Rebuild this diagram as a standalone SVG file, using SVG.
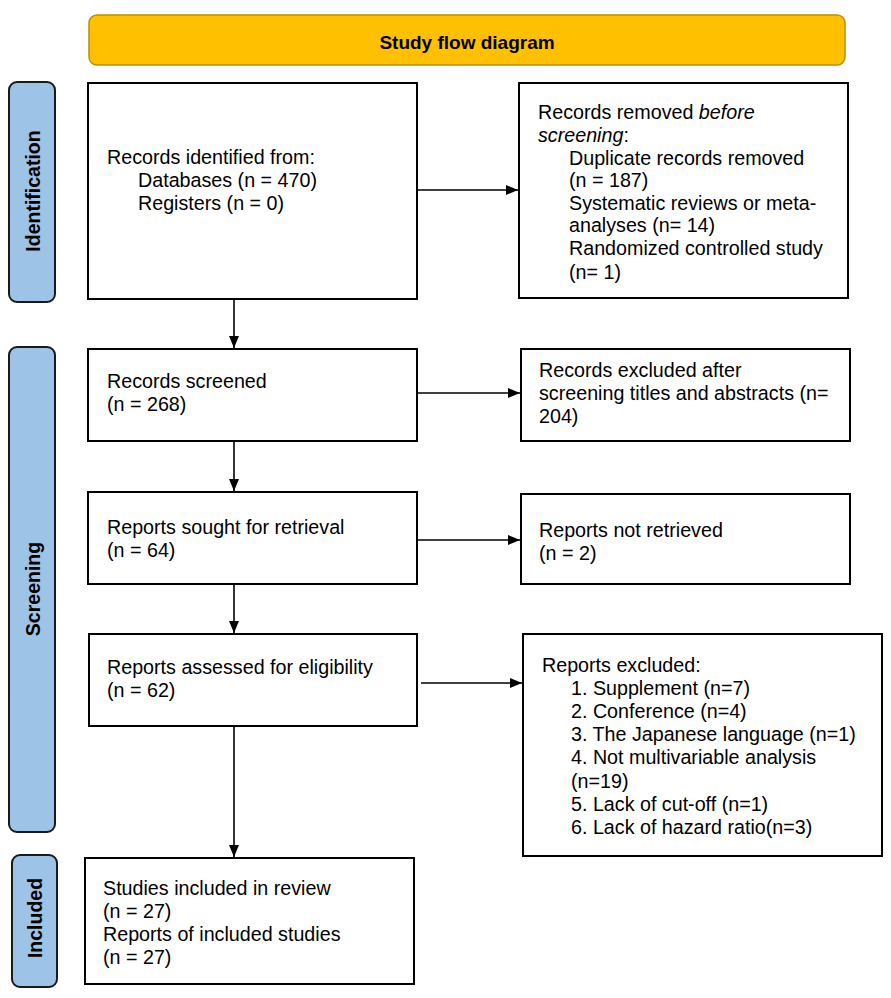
<svg xmlns="http://www.w3.org/2000/svg" width="891" height="998" viewBox="0 0 891 998">
<style>
.box{fill:#fff;stroke:#000;stroke-width:2}
.side{fill:#9DC3E6;stroke:#1a1a1a;stroke-width:2}
.t{font-family:"Liberation Sans",Arial,sans-serif;font-size:19.7px;fill:#000}
.st{font-family:"Liberation Sans",Arial,sans-serif;font-size:19.5px;font-weight:bold;fill:#000}
.conn{stroke:#000;stroke-width:1.6;fill:none;marker-end:url(#ah)}
</style>
<defs>
<marker id="ah" markerUnits="userSpaceOnUse" markerWidth="13" markerHeight="11" refX="12" refY="5" orient="auto">
<path d="M0,0 L12,5 L0,10 z" fill="#000"/>
</marker>
</defs>
<rect width="891" height="998" fill="#fff"/>

<g id="title">
<rect x="89" y="15" width="756" height="50" rx="8" fill="#FFC000" stroke="#B8900A" stroke-width="1.5"/>
<text x="467" y="49" text-anchor="middle" class="st" style="font-size:19px">Study flow diagram</text>
</g>

<g id="lbl-identification">
<rect class="side" x="9" y="82" width="46" height="220" rx="8"/>
<text class="st" transform="translate(40,191) rotate(-90)" text-anchor="middle">Identification</text>
</g>
<g id="lbl-screening">
<rect class="side" x="9" y="347" width="46" height="485" rx="8"/>
<text class="st" transform="translate(40,589) rotate(-90)" text-anchor="middle">Screening</text>
</g>
<g id="lbl-included">
<rect class="side" x="12" y="855" width="45" height="132" rx="8"/>
<text class="st" transform="translate(42,918) rotate(-90)" text-anchor="middle">Included</text>
</g>

<g id="n-identified">
<rect class="box" x="88" y="83" width="329" height="216"/>
<text class="t" x="107" y="164">Records identified from:</text>
<text class="t" x="138" y="187">Databases (n = 470)</text>
<text class="t" x="138" y="210">Registers (n = 0)</text>
</g>

<g id="n-removed">
<rect class="box" x="519" y="83" width="329" height="215"/>
<text class="t" x="538" y="119">Records removed <tspan font-style="italic">before</tspan></text>
<text class="t" x="538" y="142"><tspan font-style="italic">screening</tspan>:</text>
<text class="t" x="569" y="165">Duplicate records removed</text>
<text class="t" x="569" y="187">(n = 187)</text>
<text class="t" x="569" y="210">Systematic reviews or meta-</text>
<text class="t" x="569" y="232">analyses (n= 14)</text>
<text class="t" x="569" y="255">Randomized controlled study</text>
<text class="t" x="569" y="279">(n= 1)</text>
</g>

<g id="n-screened">
<rect class="box" x="88" y="349" width="329" height="92"/>
<text class="t" x="107" y="388">Records screened</text>
<text class="t" x="107" y="411">(n = 268)</text>
</g>

<g id="n-excluded">
<rect class="box" x="521" y="349" width="329" height="92"/>
<text class="t" x="539" y="377">Records excluded after</text>
<text class="t" x="539" y="400">screening titles and abstracts (n=</text>
<text class="t" x="539" y="423">204)</text>
</g>

<g id="n-sought">
<rect class="box" x="88" y="492" width="329" height="92"/>
<text class="t" x="107" y="534">Reports sought for retrieval</text>
<text class="t" x="107" y="557">(n = 64)</text>
</g>

<g id="n-notretrieved">
<rect class="box" x="521" y="494" width="329" height="90"/>
<text class="t" x="539" y="537">Reports not retrieved</text>
<text class="t" x="539" y="560">(n = 2)</text>
</g>

<g id="n-assessed">
<rect class="box" x="89" y="634" width="328" height="92"/>
<text class="t" x="107" y="674">Reports assessed for eligibility</text>
<text class="t" x="107" y="697">(n = 62)</text>
</g>

<g id="n-reportsexcluded">
<rect class="box" x="523" y="634" width="359" height="222"/>
<text class="t" x="542" y="672">Reports excluded:</text>
<text class="t" x="571" y="695">1. Supplement (n=7)</text>
<text class="t" x="571" y="718">2. Conference (n=4)</text>
<text class="t" x="571" y="741">3. The Japanese language (n=1)</text>
<text class="t" x="571" y="764">4. Not multivariable analysis</text>
<text class="t" x="571" y="788">(n=19)</text>
<text class="t" x="571" y="811">5. Lack of cut-off (n=1)</text>
<text class="t" x="571" y="834">6. Lack of hazard ratio(n=3)</text>
</g>

<g id="n-included">
<rect class="box" x="85" y="858" width="329" height="126"/>
<text class="t" x="103" y="895">Studies included in review</text>
<text class="t" x="103" y="918">(n = 27)</text>
<text class="t" x="103" y="941">Reports of included studies</text>
<text class="t" x="103" y="964">(n = 27)</text>
</g>

<g id="connectors">
<line class="conn" x1="417" y1="190" x2="518" y2="190"/>
<line class="conn" x1="234" y1="299" x2="234" y2="348"/>
<line class="conn" x1="417" y1="393" x2="520" y2="393"/>
<line class="conn" x1="234" y1="441" x2="234" y2="491"/>
<line class="conn" x1="417" y1="540" x2="520" y2="540"/>
<line class="conn" x1="234" y1="584" x2="234" y2="633"/>
<line class="conn" x1="421" y1="683" x2="522" y2="683"/>
<line class="conn" x1="234" y1="726" x2="234" y2="857"/>
</g>
</svg>
